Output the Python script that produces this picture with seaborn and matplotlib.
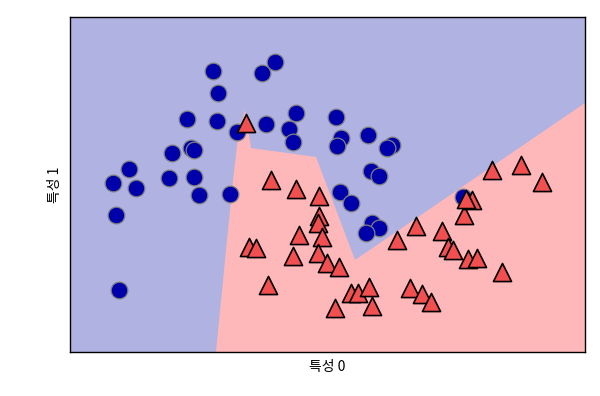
import matplotlib
matplotlib.use("Agg")
import matplotlib.pyplot as plt
import seaborn as sns
import pandas as pd

# class 0 (blue circles)
x0 = [1.43, 1.92, 2.05, 1.48, 1.17, 1.47, 1.96, 2.26, 2.19, 2.23, 1.67, 1.02, 1.21, 1.24,
      0.59, 0.43, 0.66, 0.99, 1.24, 1.29, 1.60, 0.46, 0.49, 2.66, 2.71, 2.67, 2.98, 3.22,
      3.17, 3.01, 3.09, 2.70, 2.81, 3.02, 3.09, 2.96, 3.93]
y0 = [2.81, 2.79, 2.90, 2.59, 2.33, 2.31, 2.28, 2.39, 2.23, 2.10, 2.20, 1.99, 2.04, 2.02,
      1.83, 1.69, 1.64, 1.74, 1.75, 1.57, 1.58, 1.37, 0.62, 2.35, 2.14, 2.06, 2.17, 2.07,
      2.04, 1.81, 1.76, 1.60, 1.49, 1.29, 1.24, 1.19, 1.55]
# class 1 (red triangles)
x1 = [1.76, 2.01, 2.26, 2.49, 2.49, 2.48, 2.52, 2.29, 1.79, 1.86, 2.23, 2.48, 2.57, 2.69,
      1.98, 2.81, 2.88, 2.99, 2.65, 3.02, 3.40, 3.52, 3.61, 3.27, 3.46, 3.72, 3.78, 3.83,
      3.98, 4.07, 4.32, 3.94, 4.02, 3.96, 4.22, 4.51, 4.72]
y1 = [2.29, 1.72, 1.63, 1.56, 1.36, 1.29, 1.15, 1.17, 1.05, 1.04, 0.96, 0.99, 0.89, 0.85,
      0.67, 0.59, 0.59, 0.65, 0.44, 0.46, 0.64, 0.58, 0.50, 1.12, 1.26, 1.21, 1.05, 1.02,
      0.93, 0.94, 0.80, 1.37, 1.52, 1.53, 1.82, 1.87, 1.70]
# decision region (class 1) boundary vertices
bx = [1.46, 1.62, 1.68, 1.75, 1.81, 2.46, 2.85, 5.15, 5.15]
by = [0.00, 1.62, 2.15, 2.42, 2.04, 1.95, 0.92, 2.49, 0.00]

xlabel = "특성 0"
ylabel = "특성 1"

df = pd.DataFrame({
    "f0": x0 + x1,
    "f1": y0 + y1,
    "cls": [0] * len(x0) + [1] * len(x1),
})

sns.set_theme(style="white")
plt.rcParams['font.family'] = ['Noto Sans CJK KR', 'DejaVu Sans']

fig = plt.figure(figsize=(6.0, 3.96), dpi=100)
ax = fig.add_axes([70 / 600, 44 / 396, 515 / 600, 335 / 396])
ax.set_facecolor('#b0b3e2')
ax.fill(bx, by, color='#ffb8b9', lw=0, zorder=0)

d0 = df[df.cls == 0]
d1 = df[df.cls == 1]
sns.scatterplot(data=d0, x="f0", y="f1", ax=ax, marker='o', s=145,
                color='#0000aa', edgecolor='#808080', linewidth=0.9, zorder=3)
sns.scatterplot(data=d1, x="f0", y="f1", ax=ax, marker='^', s=170,
                color='#f25050', edgecolor='black', linewidth=1.2, zorder=3)

ax.set_xlim(0, 5.15)
ax.set_ylim(0, 3.35)
ax.set_xticks([])
ax.set_yticks([])
ax.set_xlabel(xlabel, fontsize=10, color='black', labelpad=6)
ax.set_ylabel(ylabel, fontsize=10, color='black', labelpad=6)
for s in ax.spines.values():
    s.set_color('black')
    s.set_linewidth(1.0)
    s.set_visible(True)

fig.savefig("out.png", dpi=100)
